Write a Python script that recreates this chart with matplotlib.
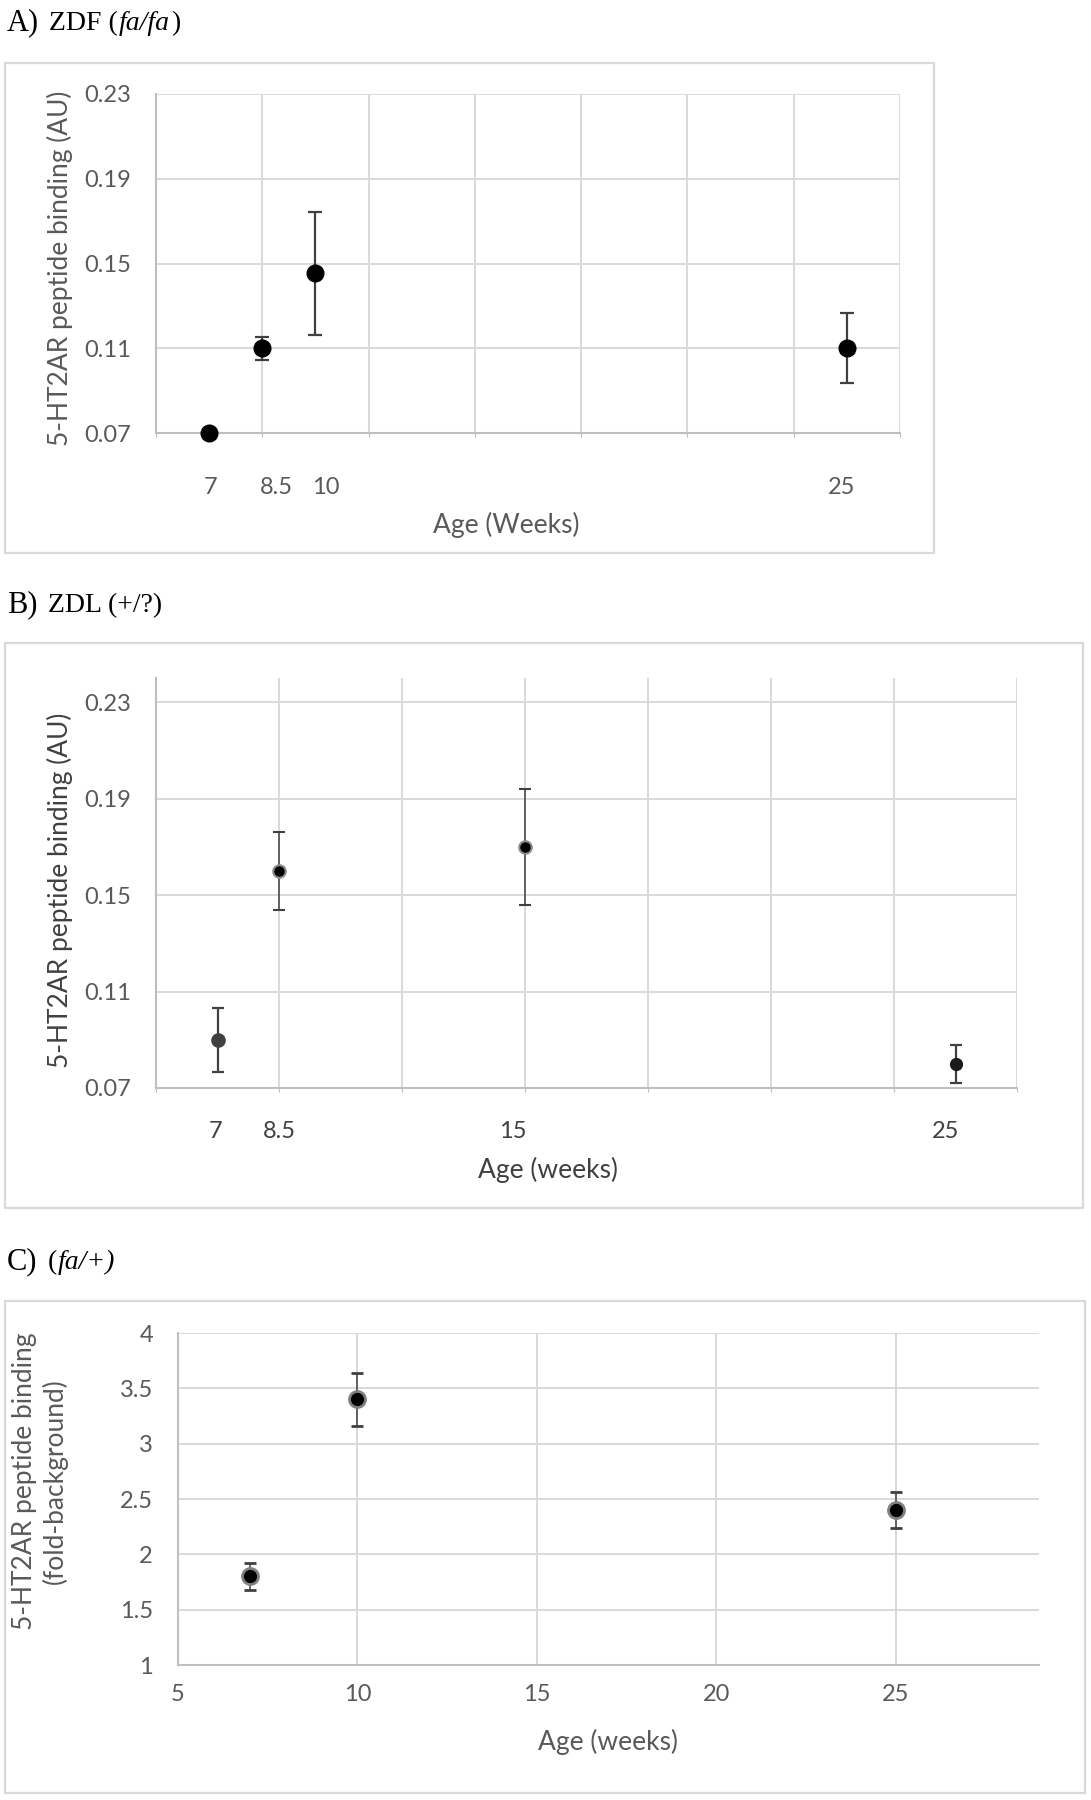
import matplotlib
matplotlib.use("Agg")
import matplotlib.pyplot as plt
import numpy as np
from matplotlib.patches import Rectangle

# A) ZDF (fa/fa)
a_age = [7, 8.5, 10, 25]
a_val = [0.070, 0.110, 0.1453, 0.110]
a_err = [0.0, 0.0055, 0.029, 0.0165]
a_labels = ['7', '8.5', '10', '25']
a_label_x = [7.05, 8.9, 10.3, 24.85]

# B) ZDL (+/?)
b_age = [7, 8.5, 14.5, 25]
b_val = [0.090, 0.160, 0.170, 0.080]
b_err = [0.0133, 0.016, 0.024, 0.008]
b_labels = ['7', '8.5', '15', '25']
b_label_x = [6.95, 8.5, 14.2, 24.75]

# C) (fa/+)
c_age = [7, 10, 25]
c_val = [1.80, 3.40, 2.40]
c_err = [0.12, 0.24, 0.165]

W, H = 1091, 1800
GRID = '#d9d9d9'
AXIS = '#bfbfbf'
TXT = '#595959'
SERIF = 'Liberation Serif'
plt.rcParams['font.family'] = ['Lato', 'DejaVu Sans']

fig = plt.figure(figsize=(W / 100, H / 100), dpi=100)
rend = fig.canvas.get_renderer()


def box(l, t, r, b):
    fig.patches.append(Rectangle((l / W, 1 - b / H), (r - l) / W, (b - t) / H,
                                 transform=fig.transFigure, fill=False,
                                 edgecolor=GRID, lw=1.6))


def ftext(x, y, s, **kw):
    return fig.text(x / W, 1 - y / H, s, **kw)


def title(x, y, parts):
    # parts: (text, size, style, gap after)
    for s, size, style, gap in parts:
        t = ftext(x, y, s, fontsize=size, style=style, family=SERIF,
                  va='baseline', color='black')
        x += t.get_window_extent(rend).width + gap


def panel(l, t, r, b):
    ax = fig.add_axes([l / W, 1 - b / H, (r - l) / W, (b - t) / H])
    ax.set_facecolor('none')
    for side in ['top', 'right']:
        ax.spines[side].set_visible(False)
    for side in ['left', 'bottom']:
        ax.spines[side].set_color(AXIS)
        ax.spines[side].set_linewidth(1.5)
    ax.grid(True, color=GRID, lw=1.4)
    ax.set_axisbelow(True)
    ax.tick_params(axis='y', length=0, pad=18, labelsize=17, labelcolor=TXT)
    return ax


# ---------------- panel A ----------------
box(5, 63, 934, 553)
title(7, 30, [('A)', 22, 'normal', 10), ('ZDF (', 20, 'normal', 1),
              ('fa/fa', 20, 'italic', 1), (')', 20, 'normal', 0)])
axA = panel(156, 94, 900, 433)
axA.set_xlim(5.5, 26.5)
axA.set_ylim(0.07, 0.23)
axA.set_xticks(np.arange(5.5, 26.6, 3))
axA.set_yticks(np.arange(0.07, 0.231, 0.04))
axA.set_yticklabels([f'{v:.2f}' for v in np.arange(0.07, 0.231, 0.04)])
axA.tick_params(axis='x', length=3, color=AXIS, labelbottom=False)
axA.errorbar(a_age, a_val, yerr=a_err, fmt='o', color='black', ms=12,
             ecolor='#404040', elinewidth=1.6, capsize=4.7, capthick=1.6,
             zorder=3, clip_on=False)
for xp, lab in zip(a_label_x, a_labels):
    axA.text(xp, (433 - 488) / (433 - 94), lab, transform=axA.get_xaxis_transform(),
             ha='center', va='center', fontsize=17, color=TXT)
ftext(60, 268, '5-HT2AR peptide binding (AU)', rotation=90, ha='center',
      va='center', fontsize=19, color=TXT)
ftext(506, 525, 'Age (Weeks)', ha='center', va='center', fontsize=19, color=TXT)

# ---------------- panel B ----------------
box(5, 643, 1083, 1208)
title(7, 612, [('B)', 22, 'normal', 10), ('ZDL (+/?)', 20, 'normal', 0)])
axB = panel(156, 678, 1017, 1088)
axB.set_xlim(5.5, 26.5)
axB.set_ylim(0.07, 0.24)
axB.set_xticks(np.arange(5.5, 26.6, 3))
axB.set_yticks(np.arange(0.07, 0.231, 0.04))
axB.set_yticklabels([f'{v:.2f}' for v in np.arange(0.07, 0.231, 0.04)])
axB.tick_params(axis='x', length=3, color=AXIS, labelbottom=False)
b_style = [
    dict(mfc='#404040', mec='#404040', ms=9.5, elinewidth=1.6, capsize=4.5),
    dict(mfc='black', mec='#8c8c8c', ms=9, mew=1.5, elinewidth=1.1, capsize=4.5),
    dict(mfc='black', mec='#8c8c8c', ms=9, mew=1.5, elinewidth=1.1, capsize=4.5),
    dict(mfc='#1a1a1a', mec='#1a1a1a', ms=8.5, elinewidth=1.6, capsize=4),
]
for xv, yv, ev, st in zip(b_age, b_val, b_err, b_style):
    axB.errorbar([xv], [yv], yerr=[ev], fmt='o', ecolor='#404040',
                 capthick=st['elinewidth'], zorder=3, clip_on=False, **st)
for xp, lab in zip(b_label_x, b_labels):
    axB.text(xp, (1088 - 1132) / (1088 - 678), lab, transform=axB.get_xaxis_transform(),
             ha='center', va='center', fontsize=17, color='#404040')
ftext(60, 890, '5-HT2AR peptide binding (AU)', rotation=90, ha='center',
      va='center', fontsize=19, color='#404040')
ftext(548, 1170, 'Age (weeks)', ha='center', va='center', fontsize=19, color='#404040')

# ---------------- panel C ----------------
box(5, 1301, 1085, 1793)
title(7, 1269, [('C)', 22, 'normal', 10), ('(', 20, 'normal', 1),
                ('fa/+)', 20, 'italic', 0)])
axC = panel(178, 1333, 1039, 1665)
axC.set_xlim(5, 29)
axC.set_ylim(1, 4)
axC.set_xticks([5, 10, 15, 20, 25])
axC.set_yticks(np.arange(1, 4.01, 0.5))
axC.set_yticklabels([f'{v:g}' for v in np.arange(1, 4.01, 0.5)])
axC.tick_params(axis='x', length=0, pad=14, labelsize=17, labelcolor=TXT)
axC.errorbar(c_age, c_val, yerr=c_err, fmt='o', mfc='black', mec='#7f7f7f',
             mew=2, ms=11.5, ecolor='#404040', elinewidth=1.1, capsize=4.5,
             capthick=1.1, zorder=3, clip_on=False)
ftext(40, 1481, '5-HT2AR peptide binding\n(fold-background)', rotation=90,
      ha='center', va='center', fontsize=19, color=TXT, linespacing=1.2)
ftext(608, 1742, 'Age (weeks)', ha='center', va='center', fontsize=19, color=TXT)

fig.savefig('out.png', dpi=100)
